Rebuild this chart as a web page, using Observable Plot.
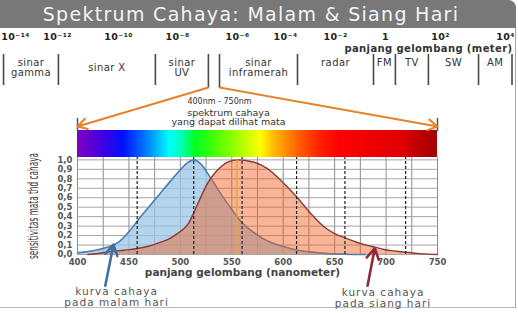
<!DOCTYPE html>
<html><head><meta charset="utf-8">
<script src="https://cdn.jsdelivr.net/npm/d3@7"></script>
<script src="https://cdn.jsdelivr.net/npm/@observablehq/plot@0.6"></script>
<style>
html,body{margin:0;padding:0;background:#fff;}
#wrap{position:relative;width:518px;height:313px;overflow:hidden;font-family:"DejaVu Sans",sans-serif;background:#fff;}
#frame{position:absolute;left:0;top:0;width:516px;height:308px;border-right:1.5px solid #a8a8a8;border-bottom:1.5px solid #b8b8b8;border-top-right-radius:8px;box-sizing:border-box;}
#titlebar{position:absolute;left:0;top:0;width:516px;height:28px;background:#787878;border-top-right-radius:8px;color:#f4f4f4;font-size:19px;letter-spacing:1.3px;line-height:28px;text-align:center;padding-right:14px;box-sizing:border-box;white-space:nowrap;}
.layer{position:absolute;left:0;top:0;}
</style></head>
<body><div id="wrap"><div id="frame"></div><div id="main" class="layer"></div><div id="head" class="layer"></div><div id="titlebar"></div></div>
<script>
// ---------- data ----------
const titleText = "Spektrum Cahaya: Malam & Siang Hari";
const expTicks = [-14, -12, -10, -8, -6, -4, -2, 0, 2, 4];
const expLabels = ["10⁻¹⁴", "10⁻¹²", "10⁻¹⁰", "10⁻⁸", "10⁻⁶", "10⁻⁴", "10⁻²", "1", "10²", "10⁴"];
const bandNames = ["sinar\ngamma", "sinar X", "sinar\nUV", "", "sinar\ninframerah", "radar", "FM", "TV", "SW", "AM"];
const bandEdges = [-14.57, -11.97, -8.75, -6.97, -6.6, -3.52, -0.48, 0.36, 1.56, 3.17, 4.2];
const unitLabel = "panjang gelombang (meter)";

const nightWl = [400, 410, 420, 430, 440, 450, 460, 470, 480, 490, 500, 507, 513, 520, 530, 540, 550, 560, 570, 580, 590, 600, 612, 625, 640, 660, 680];
const nightV  = [0.017, 0.03, 0.05, 0.078, 0.13, 0.24, 0.38, 0.51, 0.64, 0.77, 0.895, 0.97, 1.0, 0.955, 0.8, 0.63, 0.475, 0.335, 0.245, 0.17, 0.12, 0.085, 0.05, 0.028, 0.012, 0.003, 0];
const dayWl = [410, 420, 432, 445, 458, 470, 481, 490, 497, 503, 508, 513, 518, 523, 528, 532, 536, 541, 546, 556, 565, 572, 585, 598, 613, 627, 640, 650, 660, 670, 679, 690, 698, 710, 719, 730, 740, 750];
const dayV  = [0, 0.01, 0.03, 0.045, 0.063, 0.09, 0.13, 0.17, 0.22, 0.27, 0.33, 0.44, 0.56, 0.68, 0.78, 0.84, 0.89, 0.94, 0.975, 1.0, 0.99, 0.975, 0.905, 0.78, 0.61, 0.43, 0.29, 0.22, 0.175, 0.135, 0.105, 0.075, 0.053, 0.035, 0.024, 0.012, 0.004, 0];

const xTicks = [400, 450, 500, 550, 600, 650, 700, 750];
const yTicks = [0, 0.1, 0.2, 0.3, 0.4, 0.5, 0.6, 0.7, 0.8, 0.9, 1.0];
const markerWl = [458, 513, 560, 613, 660, 719];
const peakWl = [555];
const visibleRange = [400, 750];
const spectrumWl = [400, 425, 445, 465, 490, 502, 515, 540, 560, 578, 590, 603, 617, 636, 655, 715, 750];
const spectrumColors = ["#8000c0", "#4000e0", "#0010ff", "#0070ff", "#00ffff", "#00ffb0", "#00ff20", "#60ff00", "#b0ff00", "#ffff00", "#ffc000", "#ff8c00", "#ff5a00", "#ff2000", "#ff0000", "#e00000", "#a00000"];

const visibleText1 = "400nm - 750nm";
const visibleText2 = "spektrum cahaya\nyang dapat dilihat mata";
const yTitle = "sensitivitas mata thd cahaya";
const xTitle = "panjang gelombang (nanometer)";
const nightNote = "kurva cahaya\npada malam hari";
const dayNote = "kurva cahaya\npada siang hari";

// ---------- build ----------
document.getElementById("titlebar").textContent = titleText;
const night = nightWl.map((wl, i) => ({wl, v: nightV[i]}));
const day = dayWl.map((wl, i) => ({wl, v: dayV[i]}));
const bands = bandNames.map((name, i) => ({name, lo: bandEdges[i], hi: bandEdges[i + 1]})).filter(b => b.name);

const FONT = "DejaVu Sans, sans-serif";
const W = 518, H = 313, mL = 77, mR = 81, mT = 157, mB = 59;
const yTop = 1.025;
const headRange = [15, 57, 118, 177, 237, 285, 335, 385, 440, 505];
const xHead = Plot.scale({x: {type: "linear", domain: expTicks, range: headRange}});
const xMain = Plot.scale({x: {domain: [400, 750], range: [mL, W - mR]}});
const yMain = Plot.scale({y: {domain: [0, yTop], range: [H - mB, mT]}});
const py = p => yMain.invert(p);
const bandMid = b => xHead.invert((xHead.apply(b.lo) + xHead.apply(b.hi)) / 2);

// header: EM spectrum ruler
const head = Plot.plot({
  width: W, height: 92, margin: 0,
  style: {background: "transparent", fontFamily: FONT, overflow: "visible", letterSpacing: "0.4px"},
  x: {type: "linear", domain: expTicks, range: headRange, axis: null},
  y: {type: "identity", axis: null},
  marks: [
    Plot.text(expTicks, {x: d => d, y: () => 36.5, text: (d, i) => expLabels[i], fontSize: 9.5, fontWeight: "bold", fill: "#222"}),
    Plot.text([unitLabel], {frameAnchor: "top-right", dx: -6, dy: 48.5, lineAnchor: "middle", textAnchor: "end", fontSize: 10, fontWeight: "bold", fill: "#333"}),
    Plot.ruleX(bandEdges, {y1: () => 54, y2: (d, i) => (i === 3 || i === 4) ? 87 : 85, stroke: "#4a4a4a", strokeWidth: 1.6}),
    Plot.text(bands.filter(b => b.name.startsWith("sinar")), {x: bandMid, y: () => 67, text: "name", fontSize: 10, fill: "#333", lineHeight: 1.0}),
    Plot.text(bands.filter(b => !b.name.startsWith("sinar")), {x: bandMid, y: () => 62, text: "name", fontSize: 10, fill: "#333"})
  ]
});
document.getElementById("head").append(head);

const topArrows = [
  {from: bandEdges[3], to: visibleRange[0]},
  {from: bandEdges[4], to: visibleRange[1]}
];

const main = Plot.plot({
  width: W, height: H, marginLeft: mL, marginRight: mR, marginTop: mT, marginBottom: mB,
  style: {background: "transparent", fontFamily: FONT, overflow: "visible"},
  x: {domain: [400, 750]},
  y: {domain: [0, yTop]},
  marks: [
    () => {
      const defs = d3.create("svg:defs");
      const g = defs.append("linearGradient").attr("id", "spectrumGrad");
      spectrumWl.forEach((w, i) => g.append("stop").attr("offset", (w - 400) / 350).attr("stop-color", spectrumColors[i]));
      return defs.node();
    },
    Plot.rect([visibleRange], {x1: d => d[0], x2: d => d[1], y1: () => yTop, y2: () => py(130), fill: "url(#spectrumGrad)"}),
    Plot.ruleX(d3.range(400, 751, 25), {y1: () => 0, y2: () => yTop, stroke: "#8c8c8c", strokeWidth: 1}),
    Plot.ruleY(yTicks, {x1: () => 400, x2: () => 750, stroke: "#a4a4a4", strokeWidth: 1}),
    Plot.areaY(night, {x: "wl", y: "v", fill: "#9bc6e8", fillOpacity: 0.75, curve: "monotone-x"}),
    Plot.lineY(night, {x: "wl", y: "v", stroke: "#4d7fae", strokeWidth: 1.6, curve: "monotone-x"}),
    Plot.areaY(day, {x: "wl", y: "v", fill: "#f06224", fillOpacity: 0.47, curve: "monotone-x"}),
    Plot.lineY(day, {x: "wl", y: "v", stroke: "#8c3b3b", strokeWidth: 1.4, curve: "monotone-x"}),
    Plot.ruleX(peakWl, {y1: () => 0, y2: () => 1.0, stroke: "#e8a23a", strokeWidth: 1.3}),
    Plot.ruleX(markerWl, {y1: () => 0, y2: () => yTop, stroke: "#222", strokeWidth: 1.2, strokeDasharray: "3,2"}),
    Plot.axisX(xTicks, {tickSize: 0, tickPadding: 4, fontSize: 8.5, fontWeight: "bold", fill: "#555", label: null}),
    Plot.axisY(yTicks, {tickSize: 0, tickPadding: 5, fontSize: 8.5, fontWeight: "bold", fill: "#555", label: null, tickFormat: d => d.toFixed(1).replace(".", ",")}),
    Plot.text([xTitle], {frameAnchor: "bottom", dx: -15, dy: 18.5, lineAnchor: "middle", fontSize: 10.5, fontWeight: "bold", fill: "#444", letterSpacing: "0.6px"}),
    Plot.text([yTitle], {frameAnchor: "left", dx: -44, dy: 53, rotate: -90, textAnchor: "start", lineAnchor: "middle", fontSize: 14, fill: "#333", fontFamily: "Liberation Sans Narrow, DejaVu Sans Condensed, sans-serif"}),
    Plot.text([visibleText1], {frameAnchor: "top", dx: -38, dy: -56, lineAnchor: "middle", fontSize: 8, fill: "#333"}),
    Plot.text([visibleText2], {frameAnchor: "top", dx: -29, dy: -40, lineAnchor: "middle", fontSize: 9.5, fill: "#333", lineHeight: 1.0}),
    Plot.ruleX(visibleRange, {y1: () => py(118), y2: () => py(131), stroke: "#555", strokeWidth: 1.5}),
    Plot.arrow(topArrows, {x1: d => xMain.invert(xHead.apply(d.from)), y1: () => py(87), x2: "to", y2: () => py(126), stroke: "#e8822a", strokeWidth: 2, headLength: 8}),
    Plot.arrow([{x1: 427, y1: -0.33, x2: 435, y2: 0.105}], {x1: "x1", y1: "y1", x2: "x2", y2: "y2", stroke: "#3f6fa5", strokeWidth: 2.6, headLength: 7}),
    Plot.arrow([{x1: 682, y1: -0.33, x2: 689, y2: 0.066}], {x1: "x1", y1: "y1", x2: "x2", y2: "y2", stroke: "#8e2b3b", strokeWidth: 2.6, headLength: 7}),
    Plot.text([{x: 438, y: -0.45, t: nightNote}], {x: "x", y: "y", text: "t", fontSize: 10.5, fill: "#555", lineHeight: 1.0}),
    Plot.text([{x: 697, y: -0.46, t: dayNote}], {x: "x", y: "y", text: "t", fontSize: 10.5, fill: "#555", lineHeight: 1.0})
  ]
});
document.getElementById("main").append(main);
d3.select(main).selectAll("text").filter(function() { return this.textContent === yTitle; })
  .attr("textLength", 106).attr("lengthAdjust", "spacingAndGlyphs");
d3.select(main).selectAll("text").each(function() {
  const t = this.textContent;
  if (t.startsWith("kurva")) this.setAttribute("letter-spacing", "1px");
});
</script></body></html>
